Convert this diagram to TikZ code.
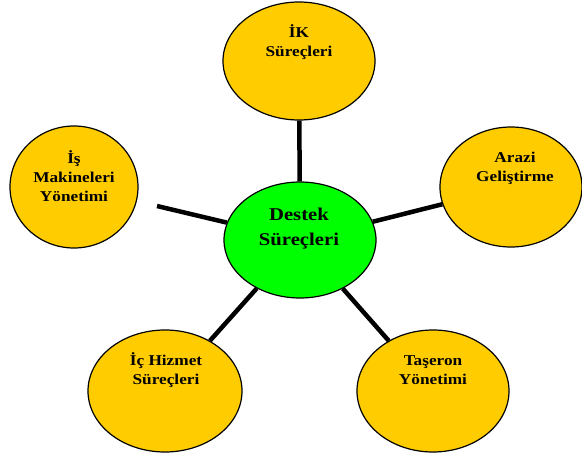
\documentclass[tikz,border=0pt]{standalone}
\usepackage{fontspec}
\usetikzlibrary{shapes.geometric}
\newfontfamily\lblfont[FakeStretch=1.15]{Liberation Serif}
\definecolor{bubbleyellow}{HTML}{FFCC00}
\definecolor{hubgreen}{HTML}{00FF00}
% fixed first-line height so the north anchor sits a known distance above the first baseline
\newcommand\firstline[1]{\rule{0pt}{#1}}

\begin{document}
\begin{tikzpicture}[x=1pt,y=-1pt,
  bubble/.style={ellipse, draw=black, line width=1.2pt, fill=bubbleyellow, inner sep=0pt},
  hub/.style={bubble, fill=hubgreen},
  lbl/.style={anchor=north, inner sep=0pt, align=center,
              font=\lblfont\bfseries\fontsize{15}{19}\selectfont},
  hublbl/.style={lbl, font=\lblfont\bfseries\fontsize{18}{25}\selectfont},
  spoke/.style={line width=4.5pt, black}]

\useasboundingbox (0,0) rectangle (582,453);

% bubbles
\node[hub,    minimum width=152pt, minimum height=116pt] (hub)    at (300,240) {};
\node[bubble, minimum width=152pt, minimum height=118pt] (ik)     at (299,61)  {};
\node[bubble, minimum width=128pt, minimum height=122pt] (makine) at (74,187)  {};
\node[bubble, minimum width=142pt, minimum height=120pt] (arazi)  at (511,187) {};
\node[bubble, minimum width=154pt, minimum height=122pt] (ic)     at (165,391) {};
\node[bubble, minimum width=152pt, minimum height=122pt] (taseron) at (433,391) {};

% labels
\node[hublbl] (hub-t)     at (299,203) {\firstline{17pt}Destek\\Süreçleri};
\node[lbl]    (ik-t)      at (299,23)  {\firstline{14pt}İK\\Süreçleri};
\node[lbl]    (makine-t)  at (74,149)  {\firstline{14pt}İş\\Makineleri\\Yönetimi};
\node[lbl]    (arazi-t)   at (515,148) {\firstline{14pt}Arazi\\Geliştirme};
\node[lbl]    (ic-t)      at (166,351) {\firstline{14pt}İç Hizmet\\Süreçleri};
\node[lbl]    (taseron-t) at (433,351) {\firstline{14pt}Taşeron\\Yönetimi};

% spokes
\coordinate (makine-end) at (157,206);
\draw[spoke] (ik) -- (hub);
\draw[spoke] (makine-end) -- (hub);
\draw[spoke] (hub) -- (arazi);
\draw[spoke] (hub) -- (ic);
\draw[spoke] (hub) -- (taseron);
\end{tikzpicture}
\end{document}
